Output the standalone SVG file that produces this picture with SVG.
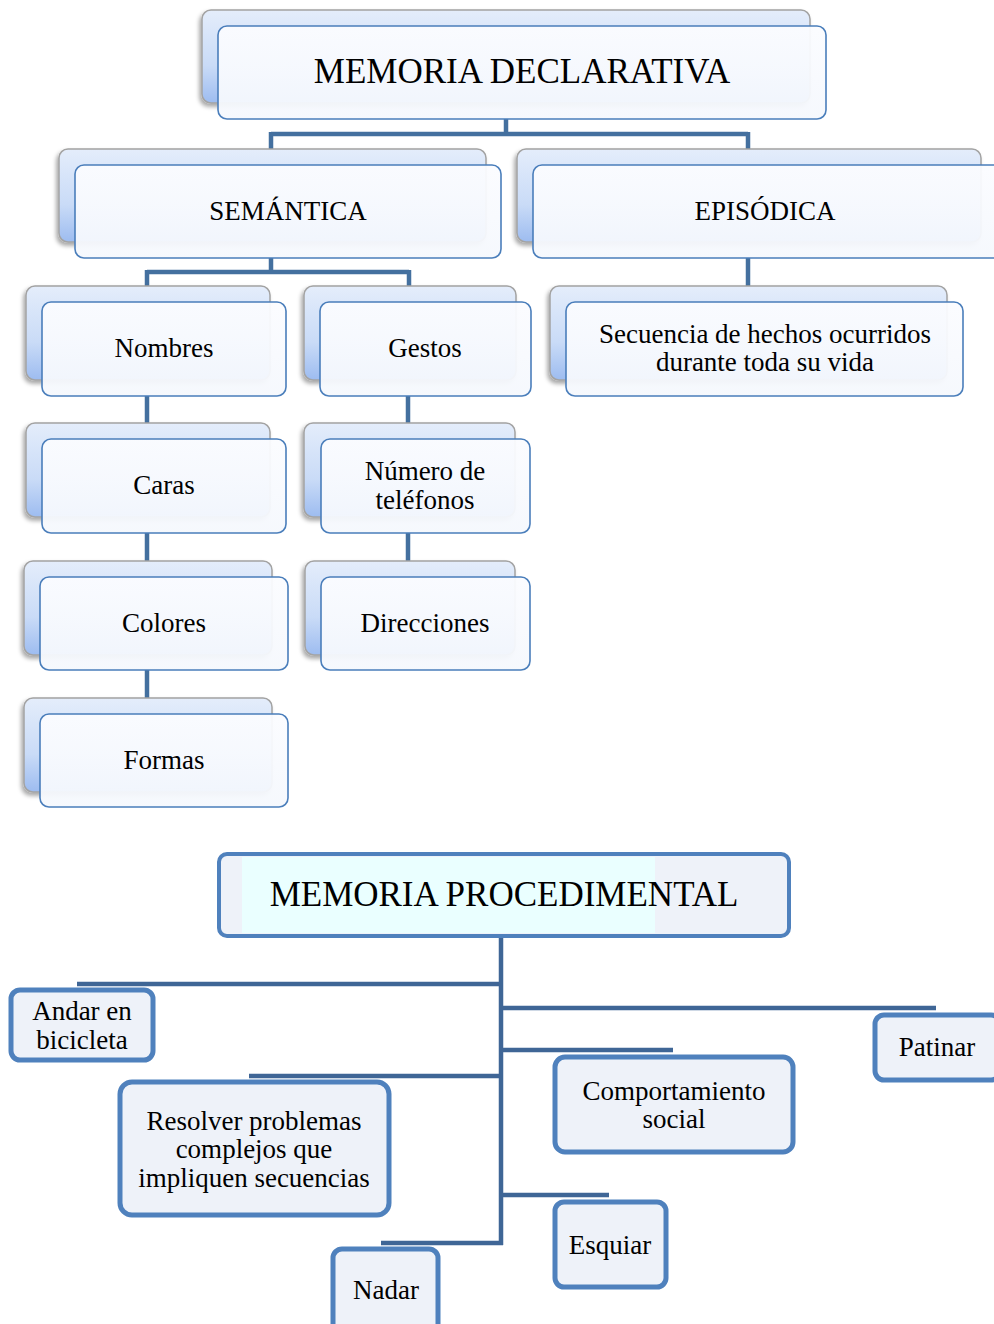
<svg xmlns="http://www.w3.org/2000/svg" width="994" height="1324" viewBox="0 0 994 1324">
<defs>
<linearGradient id="bk" x1="0" y1="0" x2="0" y2="1">
<stop offset="0" stop-color="#e4edfb"/>
<stop offset="0.6" stop-color="#c9dbf7"/>
<stop offset="1" stop-color="#9dbcf0"/>
</linearGradient>
<linearGradient id="fr" x1="0" y1="0" x2="0" y2="1">
<stop offset="0" stop-color="#fbfcff"/>
<stop offset="1" stop-color="#f5f8fd"/>
</linearGradient>
<filter id="sh" x="-5%" y="-10%" width="115%" height="130%">
<feDropShadow dx="-2" dy="3" stdDeviation="2" flood-color="#000" flood-opacity="0.35"/>
</filter>
</defs>
<style>
.back{fill:url(#bk);stroke:#a3a3a3;stroke-width:1.5;filter:url(#sh)}
.front{fill:url(#fr);fill-opacity:0.95;stroke:#4a7ebb;stroke-width:1.6}
.t{font-family:"Liberation Serif","Times New Roman",serif;font-size:27px;fill:#000;text-anchor:middle}
.big{font-size:35px}
.con{fill:none;stroke:#44709f;stroke-width:4.5}
.con2{fill:none;stroke:#3f6696;stroke-width:4.5}
.pn{fill:#eef2f9;stroke:#4f81bd;stroke-width:5}
</style>
<rect width="994" height="1324" fill="#ffffff"/>

<g id="connectors">
<path class="con" d="M506,119 V134 M271,134 H748 M271,132 V150 M748,132 V150"/>
<path class="con" d="M271,258 V272 M147,272 H409 M147,270 V287 M409,270 V287"/>
<path class="con" d="M748,258 V287"/>
<path class="con" d="M147,396 V424 M408,396 V424"/>
<path class="con" d="M147,533 V562 M408,533 V562"/>
<path class="con" d="M147,670 V699"/>
<path class="con2" d="M501,937 V1245 M77,984 H503 M499,1008 H936 M499,1050 H673 M249,1076 H503 M499,1195 H609 M381,1243 H503"/>
</g>

<g id="n-memoria-declarativa">
<rect class="back" x="202" y="10" width="608" height="93" rx="9"/>
<rect class="front" x="218" y="26" width="608" height="93" rx="9"/>
<text class="t big" x="522" y="83">MEMORIA DECLARATIVA</text>
</g>
<g id="n-semantica">
<rect class="back" x="59" y="149" width="427" height="93" rx="9"/>
<rect class="front" x="75" y="165" width="426" height="93" rx="9"/>
<text class="t" x="288" y="220">SEMÁNTICA</text>
</g>
<g id="n-episodica">
<rect class="back" x="517" y="149" width="464" height="93" rx="9"/>
<rect class="front" x="533" y="165" width="470" height="93" rx="9"/>
<text class="t" x="765" y="220">EPISÓDICA</text>
</g>
<g id="n-nombres">
<rect class="back" x="26" y="286" width="244" height="94" rx="9"/>
<rect class="front" x="42" y="302" width="244" height="94" rx="9"/>
<text class="t" x="164" y="357">Nombres</text>
</g>
<g id="n-gestos">
<rect class="back" x="304" y="286" width="212" height="94" rx="9"/>
<rect class="front" x="320" y="302" width="211" height="94" rx="9"/>
<text class="t" x="425" y="357">Gestos</text>
</g>
<g id="n-secuencia">
<rect class="back" x="550" y="286" width="397" height="94" rx="9"/>
<rect class="front" x="566" y="302" width="397" height="94" rx="9"/>
<text class="t" x="765" y="343">Secuencia de hechos ocurridos</text>
<text class="t" x="765" y="371">durante toda su vida</text>
</g>
<g id="n-caras">
<rect class="back" x="26" y="423" width="244" height="94" rx="9"/>
<rect class="front" x="42" y="439" width="244" height="94" rx="9"/>
<text class="t" x="164" y="494">Caras</text>
</g>
<g id="n-numero">
<rect class="back" x="304" y="423" width="211" height="94" rx="9"/>
<rect class="front" x="321" y="439" width="209" height="94" rx="9"/>
<text class="t" x="425" y="480">Número de</text>
<text class="t" x="425" y="509">teléfonos</text>
</g>
<g id="n-colores">
<rect class="back" x="24" y="561" width="248" height="94" rx="9"/>
<rect class="front" x="40" y="577" width="248" height="93" rx="9"/>
<text class="t" x="164" y="632">Colores</text>
</g>
<g id="n-direcciones">
<rect class="back" x="305" y="561" width="210" height="94" rx="9"/>
<rect class="front" x="321" y="577" width="209" height="93" rx="9"/>
<text class="t" x="425" y="632">Direcciones</text>
</g>
<g id="n-formas">
<rect class="back" x="24" y="698" width="248" height="94" rx="9"/>
<rect class="front" x="40" y="714" width="248" height="93" rx="9"/>
<text class="t" x="164" y="769">Formas</text>
</g>

<g id="n-memoria-procedimental">
<rect x="219" y="854" width="570" height="82" rx="8" fill="#eef2f9" stroke="#4f81bd" stroke-width="4"/>
<rect x="242" y="857" width="413" height="76" fill="#eaffff"/>
<text class="t" x="504" y="906" style="font-size:35px">MEMORIA PROCEDIMENTAL</text>
</g>
<g id="n-andar">
<rect class="pn" x="11" y="990" width="142" height="70" rx="9"/>
<text class="t" x="82" y="1020">Andar en</text>
<text class="t" x="82" y="1049">bicicleta</text>
</g>
<g id="n-patinar">
<rect class="pn" x="875" y="1015" width="125" height="65" rx="9"/>
<text class="t" x="937" y="1056">Patinar</text>
</g>
<g id="n-comportamiento">
<rect class="pn" x="555" y="1057" width="238" height="95" rx="10"/>
<text class="t" x="674" y="1100">Comportamiento</text>
<text class="t" x="674" y="1128">social</text>
</g>
<g id="n-resolver">
<rect class="pn" x="120" y="1082" width="269" height="133" rx="12"/>
<text class="t" x="254" y="1130">Resolver problemas</text>
<text class="t" x="254" y="1158">complejos que</text>
<text class="t" x="254" y="1187">impliquen secuencias</text>
</g>
<g id="n-esquiar">
<rect class="pn" x="555" y="1202" width="111" height="85" rx="9"/>
<text class="t" x="610" y="1254">Esquiar</text>
</g>
<g id="n-nadar">
<rect class="pn" x="333" y="1249" width="105" height="90" rx="9"/>
<text class="t" x="386" y="1299">Nadar</text>
</g>
</svg>
